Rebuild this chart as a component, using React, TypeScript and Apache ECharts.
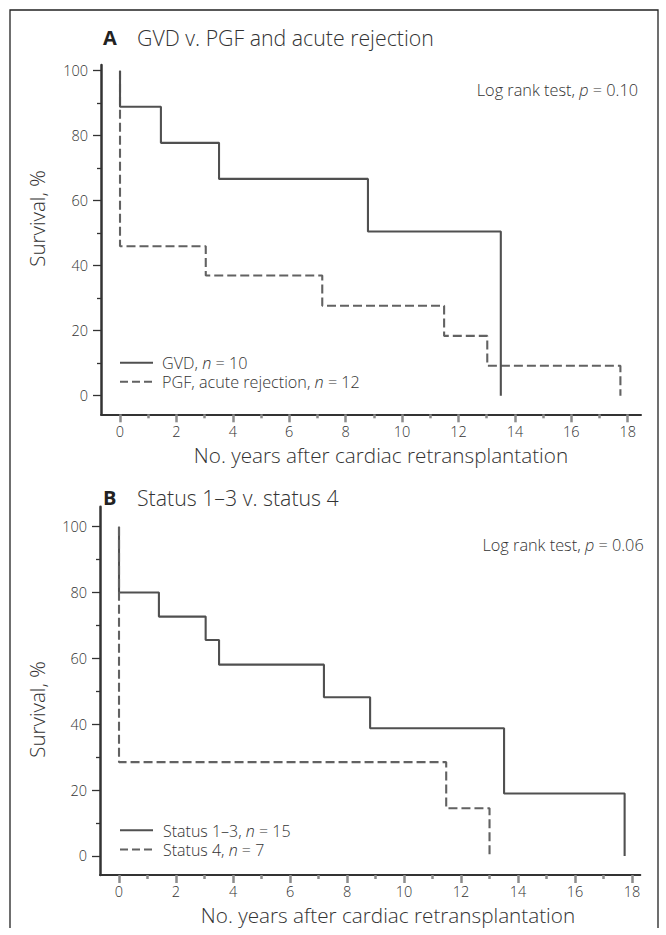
import React, { useEffect, useRef } from "react";
import * as echarts from "echarts";

// ---- data ----
const xTickValues = [0, 2, 4, 6, 8, 10, 12, 14, 16, 18];
const xMinorValues = [1, 3, 5, 7, 9, 11, 13, 15, 17];
const yTickValues = [0, 20, 40, 60, 80, 100];
const yMinorValues = [10, 30, 50, 70, 90];

const gvdTimes = [0, 0, 1.45, 3.51, 8.79, 13.5];
const gvdSurvival = [100, 88.9, 77.8, 66.7, 50.5, 0];
const pgfTimes = [0, 0, 3.04, 7.17, 11.49, 13.02, 17.74];
const pgfSurvival = [100, 46.0, 37.0, 27.7, 18.4, 9.2, 0];

const status13Times = [0, 0, 1.4, 3.04, 3.51, 7.19, 8.81, 13.51, 17.74];
const status13Survival = [100, 80, 72.7, 65.6, 58.1, 48.2, 38.8, 19.0, 0];
const status4Times = [0, 0, 11.48, 13.0];
const status4Survival = [100, 28.5, 14.5, 0];

const panelATitle = "GVD v. PGF and acute rejection";
const panelBTitle = "Status 1\u20133 v. status 4";
const pValueA = "0.10";
const pValueB = "0.06";
const xAxisTitle = "No. years after cardiac retransplantation";
const yAxisTitle = "Survival, %";

// ---- styles ----
const FONT = "'Open Sans', 'Liberation Sans', sans-serif";
const TEXT = "#333333";
const AXIS = "#333333";
const SOLID = "#505050";
const DASHED = "#626262";
const DASH = [9, 4];
const LIGHT = 300;

const zip = (a: number[], b: number[]) => a.map((v, i) => [v, b[i]]);

function xAxes(grid: number, min: number, max: number, margin: number) {
  const base = {
    type: "value" as const,
    gridIndex: grid,
    position: "bottom" as const,
    min,
    max,
    splitLine: { show: false },
  };
  return [
    {
      ...base,
      axisLine: { show: true, onZero: false, lineStyle: { color: AXIS, width: 2 } },
      axisTick: { show: true, length: 8, customValues: xTickValues, lineStyle: { color: "#8c8c8c", width: 2.5 } },
      axisLabel: {
        show: true,
        customValues: xTickValues,
        margin,
        fontSize: 14.5,
        lineHeight: 13,
        fontFamily: FONT,
        fontWeight: LIGHT,
        color: TEXT,
      },
    },
    {
      ...base,
      axisLine: { show: false, onZero: false },
      axisTick: { show: true, length: 4, customValues: xMinorValues, lineStyle: { color: "#8c8c8c", width: 2.5 } },
      axisLabel: { show: false },
    },
  ];
}

function yAxes(grid: number, min: number, max: number) {
  const base = {
    type: "value" as const,
    gridIndex: grid,
    position: "left" as const,
    min,
    max,
    splitLine: { show: false },
  };
  return [
    {
      ...base,
      axisLine: { show: true, onZero: false, lineStyle: { color: AXIS, width: 2.5 } },
      axisTick: { show: true, length: 8, customValues: yTickValues, lineStyle: { color: AXIS, width: 1.3 } },
      axisLabel: {
        show: true,
        customValues: yTickValues,
        margin: 13,
        fontSize: 14.5,
        lineHeight: 13,
        fontFamily: FONT,
        fontWeight: LIGHT,
        color: TEXT,
      },
    },
    {
      ...base,
      axisLine: { show: false, onZero: false },
      axisTick: { show: true, length: 4, customValues: yMinorValues, lineStyle: { color: AXIS, width: 1.3 } },
      axisLabel: { show: false },
    },
  ];
}

function stepSeries(xi: number, yi: number, times: number[], surv: number[], dashed: boolean, name: string) {
  return {
    type: "line" as const,
    name,
    xAxisIndex: xi,
    yAxisIndex: yi,
    step: "end" as const,
    data: zip(times, surv),
    symbol: "none",
    showSymbol: false,
    silent: true,
    lineStyle: { color: dashed ? DASHED : SOLID, width: 2.1, type: dashed ? DASH : "solid" },
  };
}

const richStyles = (size: number) => ({
  r: { fontSize: size, fontFamily: FONT, fontWeight: LIGHT, color: TEXT, lineHeight: size + 1 },
  i: { fontSize: size, fontFamily: FONT, fontWeight: LIGHT, color: TEXT, fontStyle: "italic", lineHeight: size + 1 },
});

function txt(x: number, y: number, text: string, size: number, extra: any = {}) {
  return {
    type: "text",
    x,
    y,
    silent: true,
    style: {
      text,
      fontSize: size,
      lineHeight: size - 2,
      fontFamily: FONT,
      fontWeight: LIGHT,
      fill: TEXT,
      align: "left",
      verticalAlign: "middle",
      ...extra,
    },
  };
}

function richTxt(x: number, y: number, text: string, size: number, align = "left") {
  return {
    type: "text",
    x,
    y,
    silent: true,
    style: { text, rich: richStyles(size), fontSize: size, fontFamily: FONT, fill: TEXT, align, verticalAlign: "middle" },
  };
}

function legendLine(x1: number, x2: number, y: number, dashed: boolean) {
  return {
    type: "line",
    silent: true,
    shape: { x1, y1: y, x2, y2: y },
    style: { stroke: dashed ? DASHED : SOLID, lineWidth: 2, lineDash: dashed ? [8, 4] : null },
  };
}

export default function App() {
  const ref = useRef<HTMLDivElement>(null);
  useEffect(() => {
    if (!ref.current) return;
    const chart = echarts.init(ref.current, undefined, { renderer: "svg" });
    const option: any = {
      animation: false,
      backgroundColor: "#ffffff",
      grid: [
        { left: 101, top: 65, width: 540, height: 349.3, containLabel: false, outerBoundsMode: "none" },
        { left: 100, top: 506.7, width: 540.3, height: 368.3, containLabel: false, outerBoundsMode: "none" },
      ],
      xAxis: [...xAxes(0, -0.674, 18.47, 11), ...xAxes(1, -0.667, 18.29, 10)],
      yAxis: [...yAxes(0, -5.72, 101.75), ...yAxes(1, -5.77, 106.07)],
      series: [
        stepSeries(0, 0, pgfTimes, pgfSurvival, true, "PGF, acute rejection"),
        stepSeries(0, 0, gvdTimes, gvdSurvival, false, "GVD"),
        stepSeries(2, 2, status13Times, status13Survival, false, "Status 1-3"),
        stepSeries(2, 2, status4Times, status4Survival, true, "Status 4"),
      ],
      graphic: [
        {
          type: "polyline",
          silent: true,
          shape: { points: [[10, 928], [10, 10], [658, 10], [658, 928]] },
          style: { stroke: "#222", lineWidth: 1.3, fill: null },
        },
        // Panel A
        txt(103, 37, "A", 20, { fontWeight: "bold", fill: "#222" }),
        txt(137, 37, panelATitle, 21.3),
        richTxt(638, 90, `{r|Log rank test, }{i|p}{r| = ${pValueA}}`, 16.3, "right"),
        legendLine(120, 153, 362.7, false),
        legendLine(120, 153, 381.7, true),
        richTxt(162, 363, "{r|GVD, }{i|n}{r| = 10}", 16.2),
        richTxt(162, 382, "{r|PGF, acute rejection, }{i|n}{r| = 12}", 16.2),
        { ...txt(37, 218.5, yAxisTitle, 20.5, { align: "center" }), rotation: Math.PI / 2 },
        txt(381, 454.5, xAxisTitle, 20.7, { align: "center" }),
        // Panel B
        txt(103, 497, "B", 20, { fontWeight: "bold", fill: "#222" }),
        txt(137, 497, panelBTitle, 21.3),
        richTxt(643.7, 545, `{r|Log rank test, }{i|p}{r| = ${pValueB}}`, 16.3, "right"),
        legendLine(120, 153, 830.3, false),
        legendLine(120, 153, 849.5, true),
        richTxt(163, 830.5, "{r|Status 1\u20133, }{i|n}{r| = 15}", 16),
        richTxt(163, 849.7, "{r|Status 4, }{i|n}{r| = 7}", 16),
        { ...txt(37, 709.5, yAxisTitle, 20.5, { align: "center" }), rotation: Math.PI / 2 },
        txt(388, 915, xAxisTitle, 20.7, { align: "center" }),
      ],
    };
    chart.setOption(option);
    return () => chart.dispose();
  }, []);
  return <div ref={ref} style={{ position: "absolute", left: 0, top: 0, width: 666, height: 935 }} />;
}
